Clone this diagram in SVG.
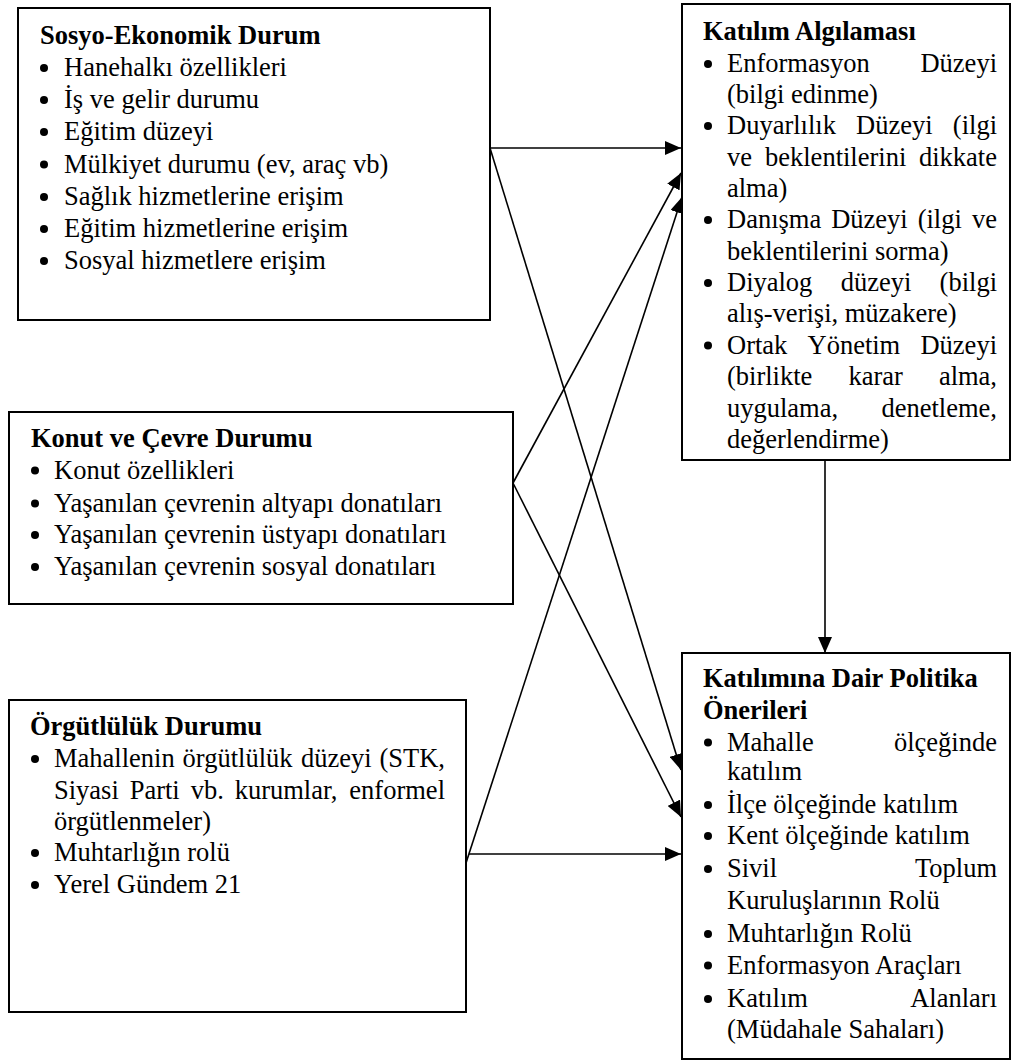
<svg xmlns="http://www.w3.org/2000/svg" width="1011" height="1061" viewBox="0 0 1011 1061">
<style>
.box{fill:#fff;stroke:#000;stroke-width:2}
.t{font-family:"Liberation Serif","Times New Roman",serif;font-size:26.5px;fill:#000}
.b{font-weight:bold}
.e{text-anchor:end}
.bl{fill:#000}
.c{stroke:#000;stroke-width:1.6;fill:none;marker-end:url(#ah)}
</style>
<defs>
<marker id="ah" markerUnits="userSpaceOnUse" markerWidth="16" markerHeight="14" refX="16" refY="7" orient="auto">
<path d="M0,0 L16,7 L0,14 Z" fill="#000"/>
</marker>
</defs>
<rect width="1011" height="1061" fill="#fff"/>

<g id="connectors">
<line class="c" x1="490" y1="148" x2="681" y2="148"/>
<line class="c" x1="490" y1="148" x2="681" y2="770"/>
<line class="c" x1="513" y1="483" x2="681" y2="173"/>
<line class="c" x1="513" y1="483" x2="681" y2="817"/>
<line class="c" x1="466" y1="863" x2="682" y2="197"/>
<line class="c" x1="469" y1="854" x2="681" y2="854"/>
<line class="c" x1="825" y1="460" x2="825" y2="653"/>
</g>

<g id="sosyo-ekonomik">
<rect class="box" x="18" y="8" width="472" height="312"/>
<text class="t b" x="40" y="44">Sosyo-Ekonomik Durum</text>
<circle class="bl" cx="44" cy="68" r="4"/><text class="t" x="64" y="76">Hanehalkı özellikleri</text>
<circle class="bl" cx="44" cy="100" r="4"/><text class="t" x="64" y="108">İş ve gelir durumu</text>
<circle class="bl" cx="44" cy="132" r="4"/><text class="t" x="64" y="140">Eğitim düzeyi</text>
<circle class="bl" cx="44" cy="164.5" r="4"/><text class="t" x="64" y="172.5">Mülkiyet durumu (ev, araç vb)</text>
<circle class="bl" cx="44" cy="197" r="4"/><text class="t" x="64" y="205">Sağlık hizmetlerine erişim</text>
<circle class="bl" cx="44" cy="229" r="4"/><text class="t" x="64" y="237">Eğitim hizmetlerine erişim</text>
<circle class="bl" cx="44" cy="261" r="4"/><text class="t" x="64" y="269">Sosyal hizmetlere erişim</text>
</g>

<g id="konut-cevre">
<rect class="box" x="9" y="412" width="504" height="192"/>
<text class="t b" x="31" y="447">Konut ve Çevre Durumu</text>
<circle class="bl" cx="35" cy="470.5" r="4"/><text class="t" x="54" y="478.5">Konut özellikleri</text>
<circle class="bl" cx="35" cy="503.5" r="4"/><text class="t" x="54" y="511.5">Yaşanılan çevrenin altyapı donatıları</text>
<circle class="bl" cx="35" cy="535" r="4"/><text class="t" x="54" y="543">Yaşanılan çevrenin üstyapı donatıları</text>
<circle class="bl" cx="35" cy="567" r="4"/><text class="t" x="54" y="575">Yaşanılan çevrenin sosyal donatıları</text>
</g>

<g id="orgutluluk">
<rect class="box" x="9" y="700" width="457" height="312"/>
<text class="t b" x="30" y="735">Örgütlülük Durumu</text>
<circle class="bl" cx="35" cy="759" r="4"/>
<text class="t" y="767"><tspan x="54">Mahallenin</tspan><tspan x="182.6">örgütlülük</tspan><tspan x="300.9">düzeyi</tspan></text>
<text class="t e" x="445" y="767">(STK,</text>
<text class="t" y="798.5"><tspan x="54">Siyasi</tspan><tspan x="129.7">Parti</tspan><tspan x="190.7">vb.</tspan><tspan x="234.7">kurumlar,</tspan></text>
<text class="t e" x="445" y="798.5">enformel</text>
<text class="t" x="54" y="829.5">örgütlenmeler)</text>
<circle class="bl" cx="35" cy="853" r="4"/><text class="t" x="54" y="861">Muhtarlığın rolü</text>
<circle class="bl" cx="35" cy="885" r="4"/><text class="t" x="54" y="893">Yerel Gündem 21</text>
</g>

<g id="katilim-algilamasi">
<rect class="box" x="682" y="4" width="328" height="456"/>
<text class="t b" x="703" y="40">Katılım Algılaması</text>
<circle class="bl" cx="708" cy="64" r="4"/>
<text class="t" x="727" y="72">Enformasyon</text><text class="t e" x="997" y="72">Düzeyi</text>
<text class="t" x="727" y="103">(bilgi edinme)</text>
<circle class="bl" cx="708" cy="126" r="4"/>
<text class="t" y="134"><tspan x="727">Duyarlılık</tspan><tspan x="856.1">Düzeyi</tspan></text><text class="t e" x="997" y="134">(ilgi</text>
<text class="t" y="165.5"><tspan x="727">ve</tspan><tspan x="765">beklentilerini</tspan></text><text class="t e" x="997" y="165.5">dikkate</text>
<text class="t" x="727" y="197">alma)</text>
<circle class="bl" cx="708" cy="220" r="4"/>
<text class="t" y="228"><tspan x="727">Danışma</tspan><tspan x="831.2">Düzeyi</tspan><tspan x="917.7">(ilgi</tspan></text><text class="t e" x="997" y="228">ve</text>
<text class="t" x="727" y="259.5">beklentilerini sorma)</text>
<circle class="bl" cx="708" cy="283" r="4"/>
<text class="t" y="291"><tspan x="727">Diyalog</tspan><tspan x="840.7">düzeyi</tspan></text><text class="t e" x="997" y="291">(bilgi</text>
<text class="t" x="727" y="322">alış-verişi, müzakere)</text>
<circle class="bl" cx="708" cy="345.5" r="4"/>
<text class="t" y="353.5"><tspan x="727">Ortak</tspan><tspan x="807.5">Yönetim</tspan></text><text class="t e" x="997" y="353.5">Düzeyi</text>
<text class="t" y="385"><tspan x="727">(birlikte</tspan><tspan x="848.4">karar</tspan></text><text class="t e" x="997" y="385">alma,</text>
<text class="t" x="727" y="416.5">uygulama,</text><text class="t e" x="997" y="416.5">denetleme,</text>
<text class="t" x="727" y="447.5">değerlendirme)</text>
</g>

<g id="politika-onerileri">
<rect class="box" x="682" y="653" width="328" height="406"/>
<text class="t b" x="703" y="687">Katılımına Dair Politika</text>
<text class="t b" x="703" y="719">Önerileri</text>
<circle class="bl" cx="708" cy="742.5" r="4"/>
<text class="t" x="727" y="750.5">Mahalle</text><text class="t e" x="997" y="750.5">ölçeğinde</text>
<text class="t" x="727" y="780">katılım</text>
<circle class="bl" cx="708" cy="805" r="4"/><text class="t" x="727" y="813">İlçe ölçeğinde katılım</text>
<circle class="bl" cx="708" cy="836" r="4"/><text class="t" x="727" y="844">Kent ölçeğinde katılım</text>
<circle class="bl" cx="708" cy="869" r="4"/>
<text class="t" x="727" y="877">Sivil</text><text class="t e" x="997" y="877">Toplum</text>
<text class="t" x="727" y="908.5">Kuruluşlarının Rolü</text>
<circle class="bl" cx="708" cy="934" r="4"/><text class="t" x="727" y="942">Muhtarlığın Rolü</text>
<circle class="bl" cx="708" cy="965.5" r="4"/><text class="t" x="727" y="973.5">Enformasyon Araçları</text>
<circle class="bl" cx="708" cy="999" r="4"/>
<text class="t" x="727" y="1007">Katılım</text><text class="t e" x="997" y="1007">Alanları</text>
<text class="t" x="727" y="1038">(Müdahale Sahaları)</text>
</g>
</svg>
